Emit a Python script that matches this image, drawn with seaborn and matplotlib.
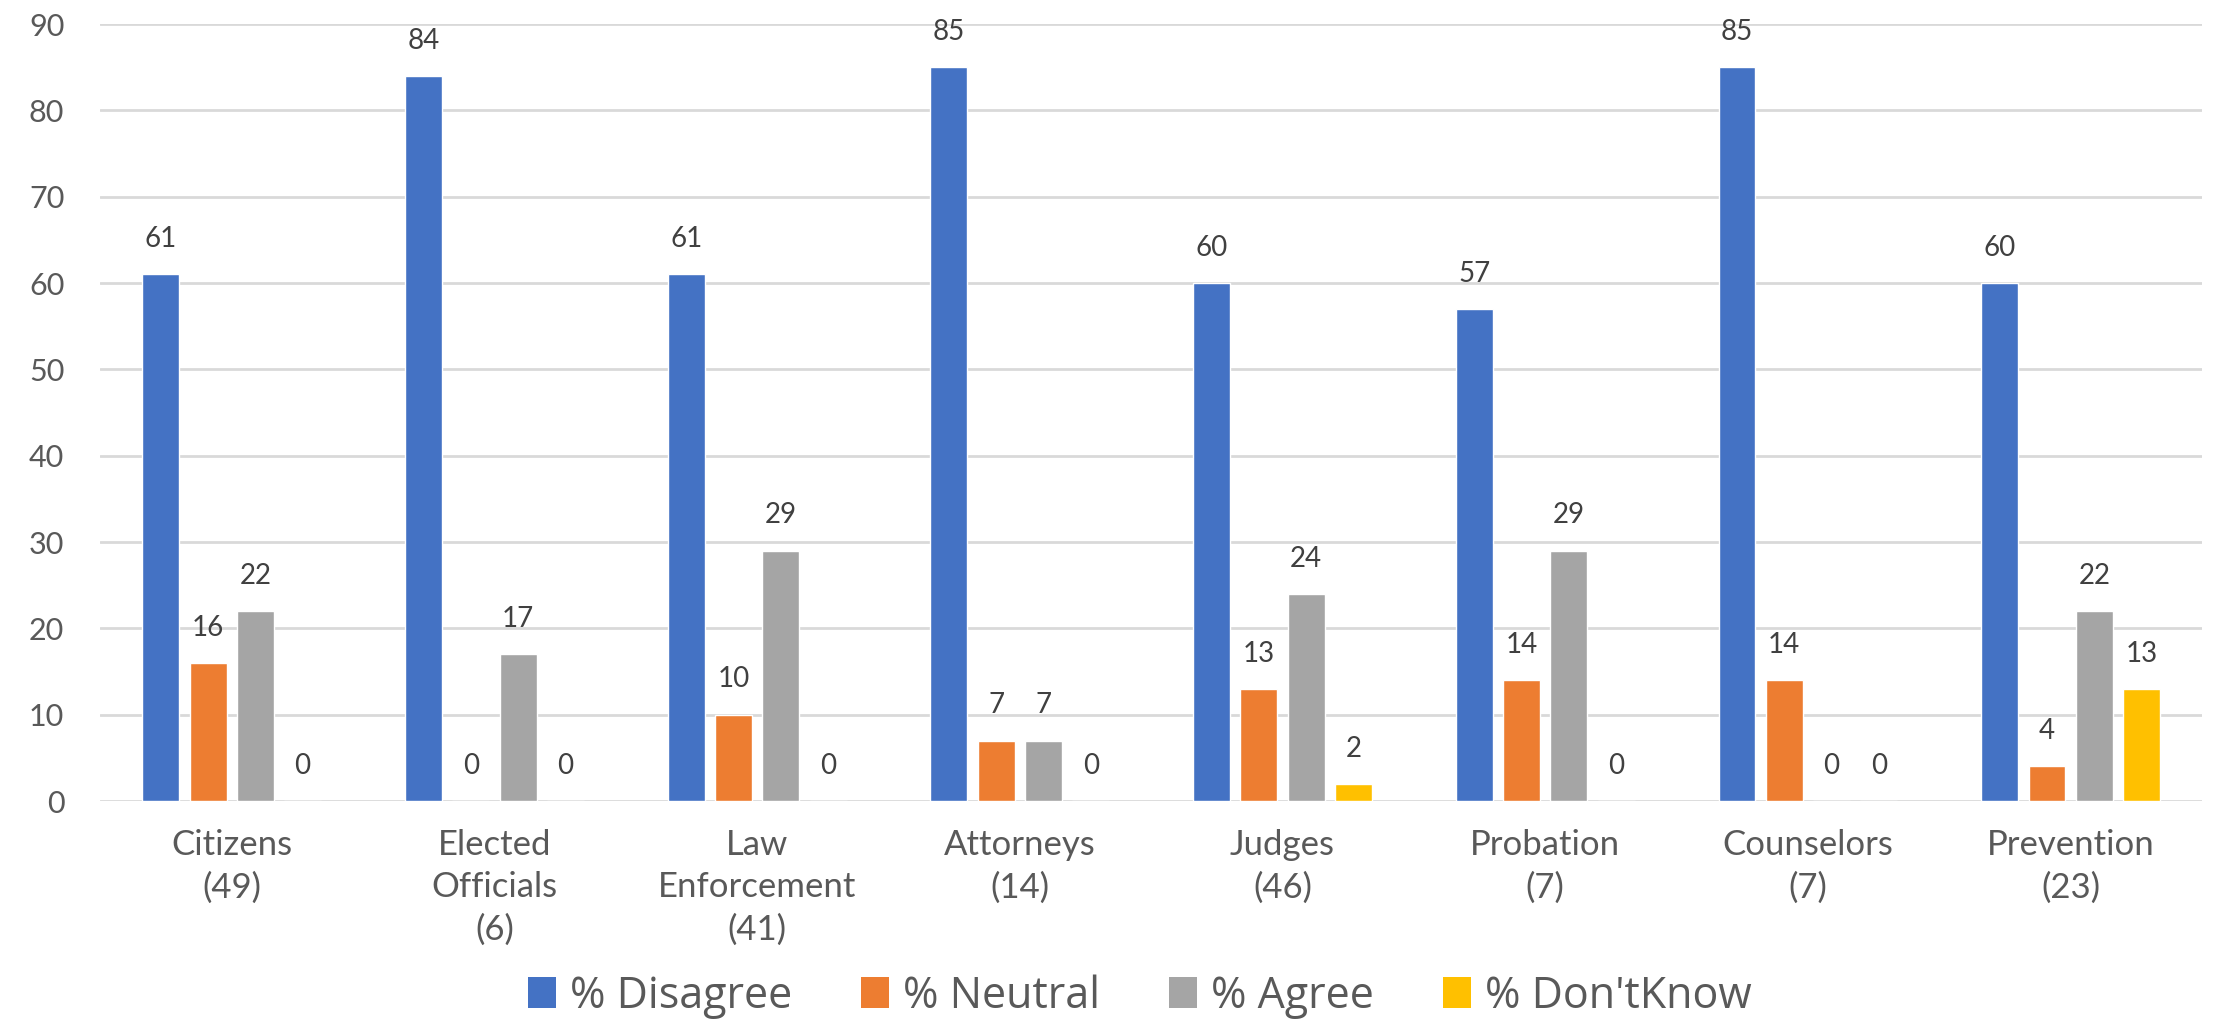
import matplotlib
matplotlib.use("Agg")
import matplotlib.pyplot as plt
import seaborn as sns
import pandas as pd
from matplotlib.patches import Patch

categories = ["Citizens\n(49)", "Elected\nOfficials\n(6)", "Law\nEnforcement\n(41)", "Attorneys\n(14)",
              "Judges\n(46)", "Probation\n(7)", "Counselors\n(7)", "Prevention\n(23)"]
series_names = ["% Disagree", "% Neutral", "% Agree", "% Don'tKnow"]
disagree = [61, 84, 61, 85, 60, 57, 85, 60]
neutral = [16, 0, 10, 7, 13, 14, 14, 4]
agree = [22, 17, 29, 7, 24, 29, 0, 22]
dontknow = [0, 0, 0, 0, 2, 0, 0, 13]
colors = ["#4472C4", "#ED7D31", "#A5A5A5", "#FFC000"]
y_ticks = [0, 10, 20, 30, 40, 50, 60, 70, 80, 90]

all_series = [disagree, neutral, agree, dontknow]
rows = []
for name, vals in zip(series_names, all_series):
    for cat, v in zip(categories, vals):
        rows.append({"group": cat, "series": name, "value": v})
df = pd.DataFrame(rows)

sns.set_theme(style="white")
plt.rcParams["font.family"] = ["Lato", "DejaVu Sans"]

fig = plt.figure(figsize=(22.31, 10.23), dpi=100)
ax = fig.add_axes([0.045, 0.217, 0.942, 0.7595])

sns.barplot(data=df, x="group", y="value", hue="series", order=categories,
            hue_order=series_names, palette=colors, width=0.72, gap=0.22,
            saturation=1, errorbar=None, ax=ax, legend=False)

for cont, vals in zip(ax.containers, all_series):
    ax.bar_label(cont, labels=[str(v) for v in vals], padding=16,
                 fontsize=20, color="#404040")

ax.set_ylim(0, 90)
ax.set_xlim(-0.5, len(categories) - 0.5)
ax.set_yticks(y_ticks)
ax.yaxis.grid(True, color="#D9D9D9", linewidth=2)
ax.set_axisbelow(True)
for s in ax.spines.values():
    s.set_visible(False)
ax.tick_params(axis="y", length=0, labelsize=22, labelcolor="#595959", pad=26)
ax.tick_params(axis="x", length=0, labelsize=25, labelcolor="#595959", pad=20)
for lbl in ax.get_xticklabels():
    lbl.set_linespacing(1.4)
ax.set_xlabel("")
ax.set_ylabel("")

handles = [Patch(facecolor=c, edgecolor="none") for c in colors]
fig.legend(handles, series_names, loc="center", bbox_to_anchor=(0.511, 0.026),
           ncol=4, frameon=False, labelcolor="#595959",
           prop={"family": ["Open Sans", "DejaVu Sans"], "size": 31},
           handlelength=0.65, handleheight=0.75, handletextpad=0.33,
           columnspacing=1.6)

fig.savefig("out.png", dpi=100, facecolor="white")
